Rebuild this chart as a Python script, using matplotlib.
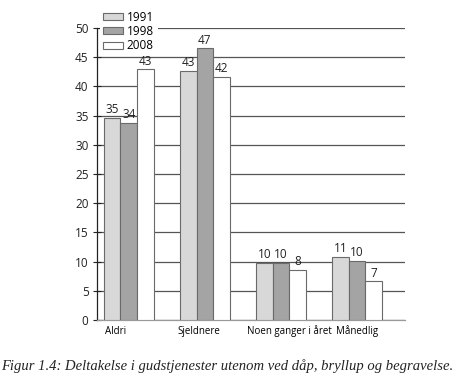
import matplotlib.pyplot as plt
import numpy as np

categories = ["Aldri", "Sjeldnere", "Noen ganger i året", "Månedlig"]
years = ["1991", "1998", "2008"]
vals_1991 = [34.6, 42.7, 9.8, 10.8]
vals_1998 = [33.8, 46.5, 9.8, 10.1]
vals_2008 = [42.9, 41.6, 8.6, 6.6]
labels_1991 = ["35", "43", "10", "11"]
labels_1998 = ["34", "47", "10", "10"]
labels_2008 = ["43", "42", "8", "7"]
yticks = [0, 5, 10, 15, 20, 25, 30, 35, 40, 45, 50]
caption = "Figur 1.4: Deltakelse i gudstjenester utenom ved dåp, bryllup og begravelse."

series = [vals_1991, vals_1998, vals_2008]
series_labels = [labels_1991, labels_1998, labels_2008]
colors = ["#d8d8d8", "#a4a4a4", "#ffffff"]
label_shift = [0.015, -0.025, -0.118, 0.053]   # nudge category labels like the print

plt.rcParams["font.family"] = ["Open Sans", "DejaVu Sans"]

fig = plt.figure(figsize=(4.55, 3.87), dpi=100)
ax = fig.add_axes([0.213, 0.173, 0.677, 0.755])

x = np.arange(len(categories))
w = 0.22
for i, (vals, labs) in enumerate(zip(series, series_labels)):
    pos = x + (i - 1) * w
    bars = ax.bar(pos, vals, width=w, color=colors[i], edgecolor="#6a6a6a",
                  linewidth=0.8, label=years[i], zorder=3)
    for b, lab in zip(bars, labs):
        ax.text(b.get_x() + b.get_width() / 2, b.get_height() + 0.3, lab,
                ha="center", va="bottom", fontsize=8.5, color="#222222", zorder=4)

ax.set_xlim(-0.42, 3.63)
ax.set_ylim(0, 50)
ax.set_yticks(yticks)
ax.tick_params(axis="y", direction="inout", length=6, width=0.8, labelsize=8.5,
               colors="#222222", pad=3)
ax.yaxis.grid(True, color="#555555", linewidth=0.9, zorder=0)
ax.set_axisbelow(True)

ax.set_xticks(x - 1.5 * w + np.array(label_shift))
ax.set_xticklabels(categories, ha="left", fontsize=7)
ax.tick_params(axis="x", length=0, pad=4)

for s in ["top", "right"]:
    ax.spines[s].set_visible(False)
ax.spines["left"].set_color("#222222")
ax.spines["left"].set_linewidth(0.9)
ax.spines["bottom"].set_color("#9a9a9a")
ax.spines["bottom"].set_linewidth(0.9)

leg = fig.legend(loc="upper left", bbox_to_anchor=(0.219, 0.982), fontsize=8.5,
                 handlelength=1.7, handleheight=0.55, labelspacing=0.12,
                 handletextpad=0.3, borderpad=0.3, borderaxespad=0,
                 frameon=True, fancybox=False)
leg.get_frame().set_edgecolor("none")
leg.get_frame().set_facecolor("white")
leg.get_frame().set_alpha(1)

fig.text(0.5, 0.055, caption, ha="center", va="center", fontsize=10.5,
         family="Liberation Serif", style="italic", color="#222222")

fig.savefig("out.png", dpi=100)
